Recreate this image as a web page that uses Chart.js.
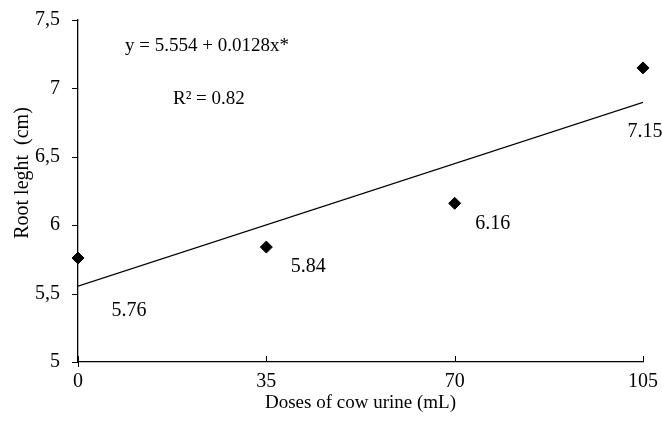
<!DOCTYPE html>
<html>
<head>
<meta charset="utf-8">
<script src="https://cdn.jsdelivr.net/npm/chart.js@4"></script>
<style>
  html, body { margin: 0; padding: 0; background: #fff; }
  #wrap { width: 662px; height: 425px; }
</style>
</head>
<body>
<div id="wrap"><canvas id="chart" width="662" height="425"></canvas></div>
<script>
const doses = [0, 35, 70, 105];
const rootLength = [5.76, 5.84, 6.16, 7.15];
const pointLabels = ["5.76", "5.84", "6.16", "7.15"];
const fitIntercept = 5.554;
const fitSlope = 0.0128;
const xTicks = [0, 35, 70, 105];
const yTicks = [5, 5.5, 6, 6.5, 7, 7.5];

// where each value label sits relative to its point (px)
const labelOffsets = [[51, 53], [42, 20], [38, 20], [2, 64]];

const FONT = "'Liberation Serif', 'Times New Roman', serif";

const fitLine = [doses[0], doses[doses.length - 1]].map((x) => ({ x, y: fitIntercept + fitSlope * x }));

const annotations = {
  id: "annotations",
  afterDatasetsDraw(chart) {
    const { ctx, scales: { x, y } } = chart;
    ctx.save();
    ctx.fillStyle = "#000";
    ctx.font = `20px ${FONT}`;
    ctx.textAlign = "center";
    ctx.textBaseline = "middle";
    doses.forEach((d, i) => {
      const [dx, dy] = labelOffsets[i];
      ctx.fillText(pointLabels[i], x.getPixelForValue(d) + dx, y.getPixelForValue(rootLength[i]) + dy);
    });
    ctx.font = `19px ${FONT}`;
    ctx.textAlign = "left";
    ctx.fillText("y = 5.554 + 0.0128x*", 125, 46);
    ctx.fillText("R² = 0.82", 173, 99);

    // y axis title
    ctx.save();
    ctx.translate(23, 173);
    ctx.rotate(-Math.PI / 2);
    ctx.textAlign = "center";
    ctx.font = `20px ${FONT}`;
    ctx.fillText("Root leght  (cm)", 0, 0);
    ctx.restore();

    // inward tick marks on the x axis, outward on the y axis
    ctx.strokeStyle = "#000";
    ctx.lineWidth = 1;
    ctx.beginPath();
    xTicks.forEach((v) => {
      const px = Math.round(x.getPixelForValue(v)) + 0.5;
      ctx.moveTo(px, y.bottom);
      ctx.lineTo(px, y.bottom - 6);
    });
    yTicks.forEach((v) => {
      const py = Math.round(y.getPixelForValue(v)) + 0.5;
      ctx.moveTo(x.left, py);
      ctx.lineTo(x.left - 6, py);
    });
    ctx.moveTo(x.left + 0.5, y.bottom);
    ctx.lineTo(x.left + 0.5, y.bottom + 5);
    ctx.stroke();
    ctx.restore();
  }
};

new Chart(document.getElementById("chart"), {
  type: "scatter",
  data: {
    datasets: [
      {
        label: "Root length",
        data: doses.map((d, i) => ({ x: d, y: rootLength[i] })),
        pointStyle: "rectRot",
        pointRadius: 6,
        pointBackgroundColor: "#000",
        pointBorderColor: "#000",
        showLine: false,
        clip: false
      },
      {
        label: "Fit",
        type: "line",
        data: fitLine,
        borderColor: "#000",
        borderWidth: 1.3,
        pointRadius: 0,
        fill: false
      }
    ]
  },
  options: {
    responsive: false,
    animation: false,
    layout: { padding: { top: 20, right: 19, left: 0, bottom: 0 } },
    plugins: { legend: { display: false }, tooltip: { enabled: false } },
    scales: {
      x: {
        type: "linear",
        min: 0,
        max: 105,
        afterBuildTicks: (s) => { s.ticks = xTicks.map((value) => ({ value })); },
        afterFit: (s) => { s.height = 63; s.paddingLeft = 0; s.paddingRight = 0; },
        grid: { display: false, drawTicks: false },
        border: { color: "#000", width: 1.3 },
        ticks: { color: "#000", font: { family: FONT, size: 20 }, padding: 8, maxRotation: 0 },
        title: { display: true, text: "Doses of cow urine (mL)", color: "#000", font: { family: FONT, size: 19 }, padding: { top: 0, bottom: 11 } }
      },
      y: {
        min: 5,
        max: 7.5,
        afterBuildTicks: (s) => { s.ticks = yTicks.map((value) => ({ value })); },
        afterFit: (s) => { s.width = 78; s.paddingTop = 0; s.paddingBottom = 0; },
        grid: { display: false, drawTicks: false },
        border: { color: "#000", width: 1.3 },
        ticks: {
          color: "#000",
          font: { family: FONT, size: 20 },
          padding: 18,
          callback: (v) => String(v).replace(".", ",")
        },
        title: { display: false }
      }
    }
  },
  plugins: [annotations]
});
</script>
</body>
</html>
